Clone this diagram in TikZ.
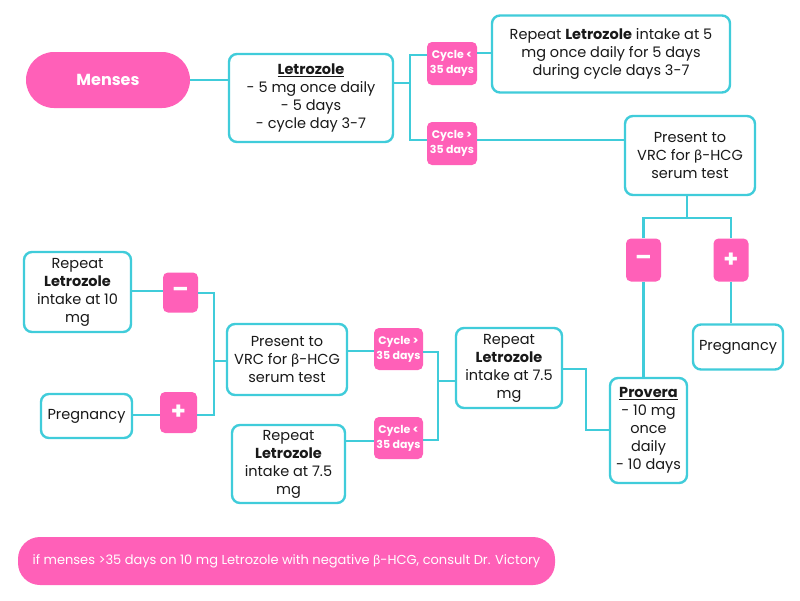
\documentclass[tikz,border=0pt]{standalone}
\usepackage{fontspec}
\setmainfont{Poppins}
\newfontfamily\grk{Lato}
\definecolor{pk}{RGB}{255,96,184}
\definecolor{cy}{RGB}{64,204,218}
\definecolor{tx}{RGB}{25,25,25}
\begin{document}
\begin{tikzpicture}[x=1pt,y=-1pt,
  box/.style={draw=cy,line width=2.4pt,rounded corners=8pt,fill=white,text=tx,align=center,inner sep=0pt,
    font=\fontsize{14.5}{18}\selectfont},
  badge/.style={fill=pk,rounded corners=5pt,text=white,align=center,inner sep=0pt,
    font=\bfseries\fontsize{11}{15}\selectfont},
  sign/.style={fill=pk,rounded corners=5pt,text=white,inner sep=0pt,font=\bfseries\fontsize{24}{24}\selectfont},
  conn/.style={draw=cy,line width=2.4pt}]
\useasboundingbox (0,0) rectangle (800,600);
\fill[white] (0,0) rectangle (800,600);
\coordinate (j1) at (410,83);
\coordinate (j2) at (687,218);
\coordinate (j3) at (586,400);
\coordinate (j4) at (438,381);
\coordinate (j5) at (214,361);
% nodes
\node[fill=pk,rounded corners=28pt,minimum width=164pt,minimum height=56pt,text=white,font=\bfseries\fontsize{16}{18}\selectfont] (men) at (108,80) {Menses};
\node[box,minimum width=164pt,minimum height=88pt] (let) at (311,98) {\textbf{\underline{Letrozole}}\\- 5 mg once daily\\- 5 days\\- cycle day 3-7};
\node[box,minimum width=238pt,minimum height=77pt] (rep1) at (611,54) {Repeat \textbf{Letrozole} intake at 5\\mg once daily for 5 days\\during cycle days 3-7};
\node[box,minimum width=130pt,minimum height=79pt] (pre1) at (690,155.5) {Present to\\VRC for {\grk β}-HCG\\serum test};
\node[badge,minimum width=50pt,minimum height=43pt] (c1) at (452,63.5) {Cycle <\\35 days};
\node[badge,minimum width=50pt,minimum height=43pt] (c2) at (452,143.5) {Cycle >\\35 days};
\node[sign,minimum width=35pt,minimum height=43pt] (m1) at (643.5,260) {–};
\node[sign,minimum width=35pt,minimum height=43pt] (p1) at (731,260) {+};
\node[box,minimum width=90pt,minimum height=45pt] (preg1) at (738,347) {Pregnancy};
\node[box,minimum width=77pt,minimum height=105pt] (prov) at (648.5,430.5) {\textbf{\underline{Provera}}\\- 10 mg\\once\\daily\\- 10 days};
\node[box,minimum width=106pt,minimum height=80pt] (rep2) at (509,368) {Repeat\\\textbf{Letrozole}\\intake at 7.5\\mg};
\node[badge,minimum width=49pt,minimum height=42pt] (c3) at (398.5,349) {Cycle >\\35 days};
\node[badge,minimum width=49pt,minimum height=42pt] (c4) at (398.5,438) {Cycle <\\35 days};
\node[box,minimum width=120pt,minimum height=71pt] (pre2) at (287,359.5) {Present to\\VRC for {\grk β}-HCG\\serum test};
\node[box,minimum width=113pt,minimum height=78pt] (rep3) at (288.5,464) {Repeat\\\textbf{Letrozole}\\intake at 7.5\\mg};
\node[sign,minimum width=35pt,minimum height=40pt] (m2) at (180.5,292.5) {–};
\node[sign,minimum width=37pt,minimum height=41pt] (p2) at (178.5,412.5) {+};
\node[box,minimum width=107pt,minimum height=80pt] (rep4) at (77.5,292) {Repeat\\\textbf{Letrozole}\\intake at 10\\mg};
\node[box,minimum width=91pt,minimum height=44pt] (preg2) at (86.5,416) {Pregnancy};
\node[fill=pk,rounded corners=22pt,minimum width=537pt,minimum height=48pt,text=white,inner sep=0pt,font=\fontsize{13}{15}\selectfont] (ban) at (286.5,561) {if menses >35 days on 10 mg Letrozole with negative {\grk β}-HCG, consult Dr. Victory};
% connectors
\draw[conn] (men.east) -- (men.east -| let.west);
\draw[conn] (let.east |- j1) -- (j1);
\draw[conn] (c1.west |- 0,55) -| (j1) |- (c2.west |- 0,140);
\draw[conn] (c1.east |- 0,53) -- (rep1.west |- 0,53);
\draw[conn] (c2.east |- 0,140) -- (pre1.west |- 0,140);
\draw[conn] (pre1.south -| j2) -- (j2);
\draw[conn] (m1.north) |- (j2) -| (p1.north);
\draw[conn] (m1.south) -- (m1.south |- prov.north);
\draw[conn] (p1.south) -- (p1.south |- preg1.north);
\draw[conn] (prov.west |- 0,430) -| (j3) |- (rep2.east |- 0,369);
\draw[conn] (rep2.west |- j4) -- (j4);
\draw[conn] (c3.east |- 0,352) -| (j4) |- (c4.east |- 0,440);
\draw[conn] (c3.west |- 0,351) -- (pre2.east |- 0,351);
\draw[conn] (c4.west |- 0,441) -- (rep3.east |- 0,441);
\draw[conn] (pre2.west |- j5) -- (j5);
\draw[conn] (m2.east |- 0,293) -| (j5) |- (p2.east |- 0,415);
\draw[conn] (m2.west |- 0,291) -- (rep4.east |- 0,291);
\draw[conn] (p2.west |- 0,415) -- (preg2.east |- 0,415);
\end{tikzpicture}
\end{document}
